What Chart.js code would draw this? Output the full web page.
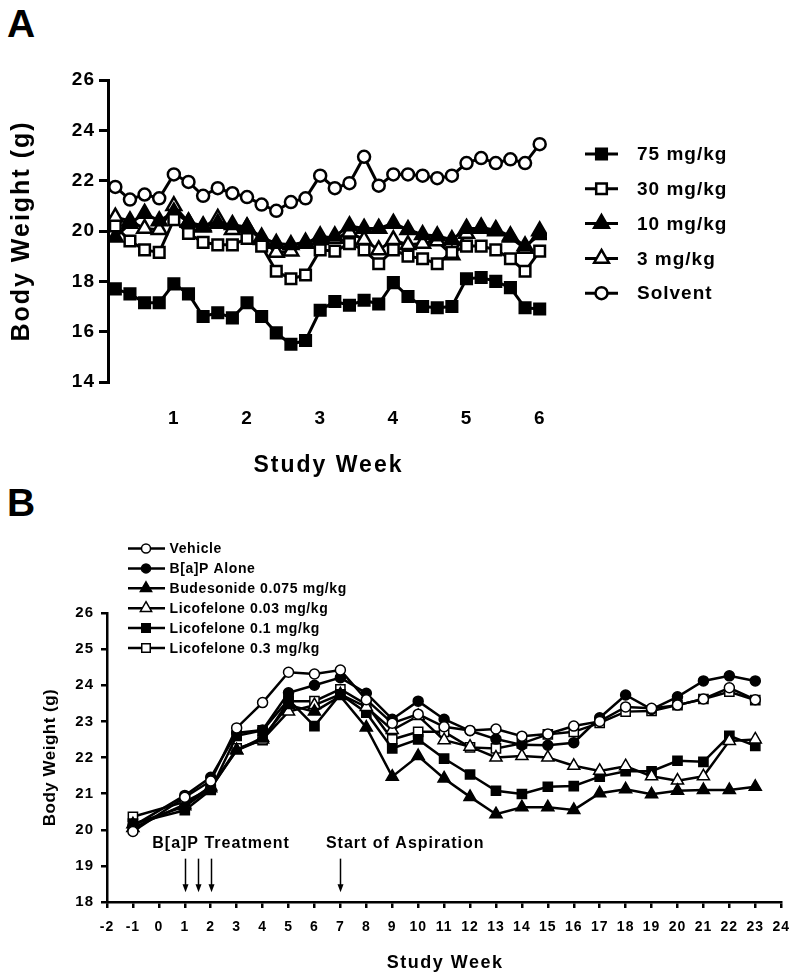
<!DOCTYPE html>
<html lang="en">
<head>
  <meta charset="UTF-8">
  <title>Body Weight</title>
  <script src="https://cdn.jsdelivr.net/npm/chart.js"></script>
  <style>
    body {
      margin: 0;
      background: #fff;
      width: 800px;
      height: 980px;
      position: relative;
      overflow: hidden;
      font-family: "Liberation Sans", Arial, sans-serif;
    }
    .panel {
      position: absolute;
      left: 0;
      width: 800px;
      height: 490px;
    }
    #boxA { top: 0; }
    #boxB { top: 490px; }
    .letter {
      position: absolute;
      left: 7px;
      font-weight: bold;
      font-size: 39px;
      line-height: 39px;
      color: #000;
    }
  </style>
</head>
<body>
  <div class="letter" style="top:4px">A</div>
  <div class="letter" style="top:483px">B</div>
  <div class="panel" id="boxA"><canvas id="chartA" width="800" height="490"></canvas></div>
  <div class="panel" id="boxB"><canvas id="chartB" width="800" height="490"></canvas></div>

<script>
// ---- Panel A ----
const weeksA = [0.2, 0.4, 0.6, 0.8, 1.0, 1.2, 1.4, 1.6, 1.8, 2.0, 2.2, 2.4, 2.6, 2.8, 3.0,
                3.2, 3.4, 3.6, 3.8, 4.0, 4.2, 4.4, 4.6, 4.8, 5.0, 5.2, 5.4, 5.6, 5.8, 6.0];
const mg75 = [17.7, 17.5, 17.15, 17.15, 17.9, 17.5, 16.6, 16.75, 16.55, 17.15,
              16.6, 15.95, 15.5, 15.65, 16.85, 17.2, 17.05, 17.25, 17.1, 17.95,
              17.4, 17.0, 16.95, 17.0, 18.1, 18.15, 18.0, 17.75, 16.95, 16.9];
const mg30 = [20.2, 19.6, 19.25, 19.15, 20.45, 19.9, 19.55, 19.45, 19.45, 19.7,
              19.4, 18.4, 18.1, 18.25, 19.25, 19.2, 19.5, 19.25, 18.7, 19.25,
              19.0, 18.9, 18.7, 19.15, 19.4, 19.4, 19.25, 18.9, 18.4, 19.2];
const mg10 = [19.75, 20.3, 20.7, 20.4, 20.75, 20.35, 20.2, 20.3, 20.25, 20.15,
              19.75, 19.5, 19.45, 19.55, 19.65, 19.8, 20.2, 20.1, 20.1, 20.3,
              20.05, 19.85, 19.8, 19.65, 20.1, 20.1, 20.05, 19.8, 19.4, 19.85];
const mg3 = [20.55, 20.4, 20.1, 20.05, 21.0, 20.35, 20.15, 20.5, 20.05, 20.15,
             19.65, 19.15, 19.2, 19.5, 19.8, 19.7, 19.95, 19.65, 19.25, 19.65,
             19.45, 19.5, 19.6, 19.05, 19.9, 20.15, 20.0, 19.75, 19.3, 20.0];
const solvent = [21.75, 21.25, 21.45, 21.3, 22.25, 21.95, 21.4, 21.7, 21.5, 21.35,
                 21.05, 20.8, 21.15, 21.3, 22.2, 21.7, 21.9, 22.95, 21.8, 22.25,
                 22.25, 22.2, 22.1, 22.2, 22.7, 22.9, 22.7, 22.85, 22.7, 23.45];
const namesA = ["75 mg/kg", "30 mg/kg", "10 mg/kg", "3 mg/kg", "Solvent"];
const yTicksA = [14, 16, 18, 20, 22, 24, 26];
const xTicksA = [1, 2, 3, 4, 5, 6];

// ---- Panel B ----
const weeksB = [-1, 1, 2, 3, 4, 5, 6, 7, 8, 9, 10, 11, 12, 13, 14, 15, 16, 17, 18, 19, 20, 21, 22, 23];
const vehicle = [19.95, 20.9, 21.35, 22.82, 23.52, 24.36, 24.31, 24.42, 23.6, 22.95, 23.2, 22.85,
                 22.75, 22.79, 22.59, 22.65, 22.87, 23.0, 23.4, 23.36, 23.45, 23.62, 23.93, 23.6];
const bapAlone = [20.1, 20.95, 21.45, 22.68, 22.76, 23.79, 24.0, 24.21, 23.78, 23.06, 23.56, 23.06,
                  22.74, 22.51, 22.35, 22.34, 22.41, 23.1, 23.73, 23.33, 23.68, 24.12, 24.26, 24.12];
const budesonide = [20.15, 20.65, 21.15, 22.2, 22.55, 23.45, 23.27, 23.7, 22.83, 21.47, 22.04, 21.42,
                    20.91, 20.43, 20.62, 20.62, 20.55, 21.01, 21.12, 20.98, 21.08, 21.1, 21.1, 21.19];
const lico003 = [20.05, 20.7, 21.2, 22.2, 22.5, 23.27, 23.45, 23.75, 23.4, 22.76, 23.15, 22.48,
                 22.3, 22.0, 22.04, 22.0, 21.77, 21.63, 21.76, 21.48, 21.36, 21.48, 22.46, 22.5];
const lico01 = [20.17, 20.54, 21.1, 22.6, 22.75, 23.6, 22.87, 23.75, 23.24, 22.25, 22.5, 21.97,
                21.53, 21.08, 20.99, 21.19, 21.21, 21.47, 21.62, 21.62, 21.91, 21.88, 22.6, 22.32];
const lico03 = [20.36, 20.77, 21.14, 22.25, 22.48, 23.56, 23.56, 23.89, 23.47, 22.5, 22.71, 22.71,
                22.28, 22.25, 22.39, 22.64, 22.71, 22.96, 23.27, 23.29, 23.45, 23.62, 23.82, 23.59];
const namesB = ["Vehicle", "B[a]P Alone", "Budesonide 0.075 mg/kg", "Licofelone 0.03 mg/kg",
                "Licofelone 0.1 mg/kg", "Licofelone 0.3 mg/kg"];
const yTicksB = [18, 19, 20, 21, 22, 23, 24, 25, 26];
const xTicksB = [-2, -1, 0, 1, 2, 3, 4, 5, 6, 7, 8, 9, 10, 11, 12, 13, 14, 15, 16, 17, 18, 19, 20, 21, 22, 23, 24];
const treatmentWeeks = [1, 1.5, 2];
const aspirationWeeks = [7];

const FONT = '"Liberation Sans", Arial, sans-serif';

function toXY(xs, ys) {
  return xs.map((x, i) => ({ x: x, y: ys[i] }));
}

// same geometry as Chart.js point styles
function marker(ctx, style, x, y, r, filled, bw) {
  ctx.beginPath();
  if (style === "circle") {
    ctx.arc(x, y, r, 0, Math.PI * 2);
  } else if (style === "rect") {
    const s = Math.SQRT1_2 * r;
    ctx.rect(x - s, y - s, 2 * s, 2 * s);
  } else {
    let a = 0;
    ctx.moveTo(x + Math.sin(a) * r, y - Math.cos(a) * r);
    a += Math.PI * 2 / 3;
    ctx.lineTo(x + Math.sin(a) * r, y - Math.cos(a) * r);
    a += Math.PI * 2 / 3;
    ctx.lineTo(x + Math.sin(a) * r, y - Math.cos(a) * r);
    ctx.closePath();
  }
  ctx.fillStyle = filled ? "#000" : "#fff";
  ctx.fill();
  ctx.lineWidth = bw;
  ctx.strokeStyle = "#000";
  ctx.stroke();
}

function series(label, xs, ys, style, filled, r, lw, bw) {
  return {
    label: label,
    data: toXY(xs, ys),
    borderColor: "#000",
    borderWidth: lw,
    pointStyle: style,
    pointRadius: r,
    pointBorderWidth: bw,
    pointBorderColor: "#000",
    pointBackgroundColor: filled ? "#000" : "#fff",
    fill: false,
    tension: 0
  };
}

// ---------- Chart A ----------
const stylesA = [
  ["rect", true, 7.5], ["rect", false, 7.5], ["triangle", true, 8.5], ["triangle", false, 8.5], ["circle", false, 6]
];
const dataA = [mg75, mg30, mg10, mg3, solvent];

const decorA = {
  id: "decorA",
  beforeDraw(chart) {
    chart.ctx.letterSpacing = "1px";
  },
  afterDraw(chart) {
    const ctx = chart.ctx;
    const area = chart.chartArea;
    ctx.save();
    ctx.fillStyle = "#000";
    ctx.textBaseline = "middle";
    ctx.textAlign = "center";
    ctx.letterSpacing = "2px";
    ctx.font = "bold 23px " + FONT;
    ctx.fillText("Study Week", (area.left + area.right) / 2 + 1, 466);
    ctx.save();
    ctx.translate(22, (area.top + area.bottom) / 2);
    ctx.rotate(-Math.PI / 2);
    ctx.font = "bold 25px " + FONT;
    ctx.fillText("Body Weight (g)", 0, 0);
    ctx.restore();

    // legend
    ctx.textAlign = "left";
    ctx.letterSpacing = "1px";
    ctx.font = "bold 19px " + FONT;
    namesA.forEach((name, i) => {
      const y = 154 + i * 34.8;
      ctx.beginPath();
      ctx.moveTo(585, y);
      ctx.lineTo(618, y);
      ctx.lineWidth = 3;
      ctx.strokeStyle = "#000";
      ctx.stroke();
      const s = stylesA[i];
      marker(ctx, s[0], 601.5, y, s[2], s[1], 2.5);
      ctx.fillStyle = "#000";
      ctx.fillText(name, 637, y + 1);
    });
    ctx.restore();
  }
};

new Chart(document.getElementById("chartA"), {
  type: "line",
  data: {
    datasets: namesA.map((n, i) =>
      series(n, weeksA, dataA[i], stylesA[i][0], stylesA[i][1], stylesA[i][2], 3, 2.5))
  },
  options: {
    responsive: false,
    animation: false,
    layout: { padding: { top: 80, right: 253, left: 0, bottom: 0 } },
    plugins: { legend: { display: false }, tooltip: { enabled: false } },
    scales: {
      x: {
        type: "linear",
        min: 0.1,
        max: 6.1,
        grid: { display: false, drawTicks: false },
        border: { display: false },
        afterBuildTicks: s => { s.ticks = xTicksA.map(v => ({ value: v })); },
        afterFit: s => { s.height = 108; },
        ticks: {
          color: "#000",
          padding: 25,
          maxRotation: 0,
          font: { family: FONT, size: 19, weight: "bold" }
        }
      },
      y: {
        min: 14,
        max: 26,
        grid: { display: true, drawOnChartArea: false, drawTicks: true, tickLength: 9, lineWidth: 3, color: "#000" },
        border: { display: true, width: 3, color: "#000" },
        afterBuildTicks: s => { s.ticks = yTicksA.map(v => ({ value: v })); },
        afterFit: s => { s.width = 108; },
        ticks: {
          color: "#000",
          padding: 4,
          font: { family: FONT, size: 19, weight: "bold" }
        }
      }
    }
  },
  plugins: [decorA]
});

// ---------- Chart B ----------
const stylesB = [
  ["circle", false, 5], ["circle", true, 5], ["triangle", true, 7],
  ["triangle", false, 7], ["rect", true, 6.5], ["rect", false, 6.5]
];
const dataB = [vehicle, bapAlone, budesonide, lico003, lico01, lico03];

const decorB = {
  id: "decorB",
  beforeDraw(chart) {
    chart.ctx.letterSpacing = "1px";
  },
  afterDraw(chart) {
    const ctx = chart.ctx;
    const area = chart.chartArea;
    const xs = chart.scales.x, ys = chart.scales.y;
    ctx.save();
    ctx.fillStyle = "#000";
    ctx.textBaseline = "middle";
    ctx.textAlign = "center";
    ctx.letterSpacing = "1.5px";
    ctx.font = "bold 18px " + FONT;
    ctx.fillText("Study Week", (area.left + area.right) / 2 + 1, 473);
    ctx.save();
    ctx.translate(50, (area.top + area.bottom) / 2);
    ctx.rotate(-Math.PI / 2);
    ctx.letterSpacing = "0.5px";
    ctx.font = "bold 17px " + FONT;
    ctx.fillText("Body Weight (g)", 0, 0);
    ctx.restore();

    // annotations
    ctx.letterSpacing = "1px";
    ctx.font = "bold 16px " + FONT;
    ctx.fillText("B[a]P Treatment", xs.getPixelForValue(2.4), ys.getPixelForValue(19.63));
    ctx.fillText("Start of Aspiration", xs.getPixelForValue(9.5), ys.getPixelForValue(19.63));
    treatmentWeeks.concat(aspirationWeeks).forEach(w => {
      const x = Math.round(xs.getPixelForValue(w)) + 0.5;
      const y1 = ys.getPixelForValue(19.2);
      const y2 = ys.getPixelForValue(18.27);
      ctx.beginPath();
      ctx.moveTo(x, y1);
      ctx.lineTo(x, y2 - 6);
      ctx.lineWidth = 1.5;
      ctx.strokeStyle = "#000";
      ctx.stroke();
      ctx.beginPath();
      ctx.moveTo(x - 3, y2 - 8);
      ctx.lineTo(x + 3, y2 - 8);
      ctx.lineTo(x, y2);
      ctx.closePath();
      ctx.fill();
    });

    // legend
    ctx.textAlign = "left";
    ctx.letterSpacing = "0.6px";
    ctx.font = "bold 14px " + FONT;
    namesB.forEach((name, i) => {
      const y = 58.5 + i * 19.9;
      ctx.beginPath();
      ctx.moveTo(128, y);
      ctx.lineTo(165, y);
      ctx.lineWidth = 2.5;
      ctx.strokeStyle = "#000";
      ctx.stroke();
      const s = stylesB[i];
      marker(ctx, s[0], 146, y, s[2] - 0.5, s[1], 1.5);
      ctx.fillStyle = "#000";
      ctx.fillText(name, 169.5, y + 1);
    });
    ctx.restore();
  }
};

new Chart(document.getElementById("chartB"), {
  type: "line",
  data: {
    datasets: namesB.map((n, i) =>
      series(n, weeksB, dataB[i], stylesB[i][0], stylesB[i][1], stylesB[i][2], 2.5, 1.5))
  },
  options: {
    responsive: false,
    animation: false,
    layout: { padding: { top: 123, right: 17, left: 0, bottom: 0 } },
    plugins: { legend: { display: false }, tooltip: { enabled: false } },
    scales: {
      x: {
        type: "linear",
        min: -2,
        max: 24,
        grid: { display: true, drawOnChartArea: false, drawTicks: true, tickLength: 6, lineWidth: 2.5, color: "#000" },
        border: { display: true, width: 2.5, color: "#000" },
        afterBuildTicks: s => { s.ticks = xTicksB.map(v => ({ value: v })); },
        afterFit: s => { s.height = 78; },
        ticks: {
          color: "#000",
          padding: 11,
          maxRotation: 0,
          autoSkip: false,
          font: { family: FONT, size: 14, weight: "bold" }
        }
      },
      y: {
        min: 18,
        max: 26,
        grid: { display: true, drawOnChartArea: false, drawTicks: true, tickLength: 6, lineWidth: 2.5, color: "#000" },
        border: { display: true, width: 2.5, color: "#000" },
        afterBuildTicks: s => { s.ticks = yTicksB.map(v => ({ value: v })); },
        afterFit: s => { s.width = 107; },
        ticks: {
          color: "#000",
          padding: 7,
          font: { family: FONT, size: 15, weight: "bold" }
        }
      }
    }
  },
  plugins: [decorB]
});
</script>
</body>
</html>
